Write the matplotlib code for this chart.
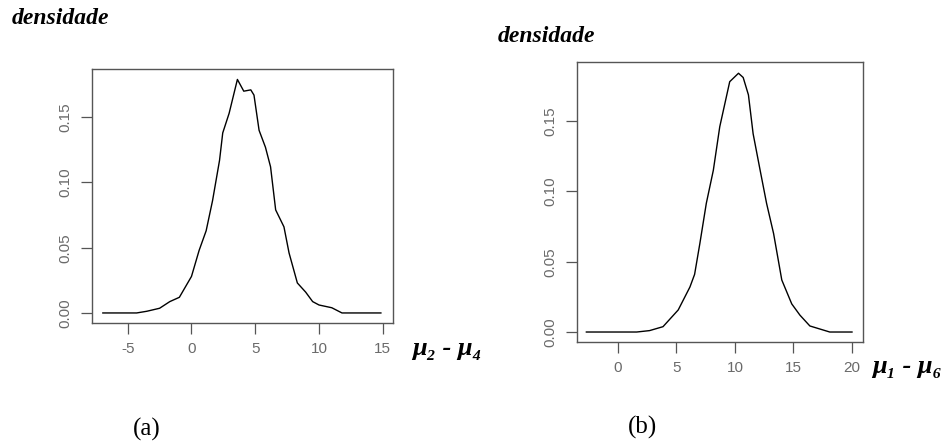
import numpy as np
import matplotlib
matplotlib.use("Agg")
import matplotlib.pyplot as plt

# density curve (a): mu2 - mu4
xa = [-6.95, -4.3, -3.5, -2.5, -1.7, -0.95, 0.0, 0.6, 1.15, 1.65, 2.2, 2.45, 2.95,
      3.6, 4.1, 4.65, 4.9, 5.3, 5.8, 6.2, 6.6, 7.25, 7.65, 8.3, 8.95, 9.5, 10.0,
      11.0, 11.8, 14.85]
ya = [0.0, 0.0, 0.0013, 0.0036, 0.0087, 0.012, 0.028, 0.048, 0.063, 0.086, 0.117,
      0.138, 0.153, 0.179, 0.170, 0.171, 0.167, 0.140, 0.127, 0.112, 0.079, 0.066,
      0.046, 0.023, 0.016, 0.0087, 0.0061, 0.004, 0.0, 0.0]

# density curve (b): mu1 - mu6
xb = [-2.7, 1.6, 2.7, 3.85, 5.15, 6.15, 6.55, 7.0, 7.55, 8.15, 8.7, 9.55, 10.3,
      10.7, 11.15, 11.55, 12.15, 12.7, 13.3, 14.0, 14.85, 15.55, 16.4, 18.1, 20.0]
yb = [0.0, 0.0, 0.001, 0.0038, 0.0157, 0.032, 0.041, 0.063, 0.0915, 0.115, 0.146,
      0.178, 0.184, 0.181, 0.1686, 0.141, 0.115, 0.0915, 0.070, 0.037, 0.020,
      0.012, 0.0043, 0.0, 0.0]

yticks = [0.0, 0.05, 0.10, 0.15]
ytick_labels = ["0.00", "0.05", "0.10", "0.15"]
xticks_a = [-5, 0, 5, 10, 15]
xticks_b = [0, 5, 10, 15, 20]

W, H = 945, 442
fig = plt.figure(figsize=(W / 100, H / 100), dpi=100)

def box(x0, y0, x1, y1):
    # pixel box -> figure fraction
    return [x0 / W, 1 - y1 / H, (x1 - x0) / W, (y1 - y0) / H]

serif_bi = dict(family=["Liberation Serif", "DejaVu Serif"], weight="bold", style="italic")
tick_col = "#6a6a6a"

def style_axes(ax, xs, ys, xticks, xlim, ylim):
    ax.plot(xs, ys, color="black", lw=1.0)
    ax.set_xlim(xlim)
    ax.set_ylim(ylim)
    ax.set_xticks(xticks)
    ax.set_xticklabels([str(t) for t in xticks])
    ax.set_yticks(yticks)
    ax.set_yticklabels(ytick_labels, rotation=90, va="center")
    ax.tick_params(direction="out", length=8, width=0.9, color="#555555",
                   labelcolor=tick_col, labelsize=11, pad=6)
    for lab in ax.get_xticklabels() + ax.get_yticklabels():
        lab.set_family(["Liberation Sans", "DejaVu Sans"])
    for s in ax.spines.values():
        s.set_color("#555555")
        s.set_linewidth(1.0)

ax1 = fig.add_axes(box(92, 69, 393, 323))
style_axes(ax1, xa, ya, xticks_a, (-7.8, 15.8), (-0.0077, 0.187))

ax2 = fig.add_axes(box(577, 62, 863, 342))
style_axes(ax2, xb, yb, xticks_b, (-3.5, 20.94), (-0.0071, 0.192))

fig.text(12 / W, 1 - 19 / H, "densidade", fontsize=17, va="center", ha="left", **serif_bi)
fig.text(498 / W, 1 - 36 / H, "densidade", fontsize=17, va="center", ha="left", **serif_bi)

fig.text(412 / W, 1 - 348 / H, "μ₂ - μ₄", fontsize=19, va="center", ha="left", **serif_bi)
fig.text(872 / W, 1 - 367 / H, "μ₁ - μ₆", fontsize=19, va="center", ha="left", **serif_bi)

fig.text(147 / W, 1 - 429 / H, "(a)", fontsize=18, va="center", ha="center",
         family=["Liberation Serif", "DejaVu Serif"])
fig.text(643 / W, 1 - 427 / H, "(b)", fontsize=18, va="center", ha="center",
         family=["Liberation Serif", "DejaVu Serif"])

fig.savefig("out.png", dpi=100, facecolor="white")
